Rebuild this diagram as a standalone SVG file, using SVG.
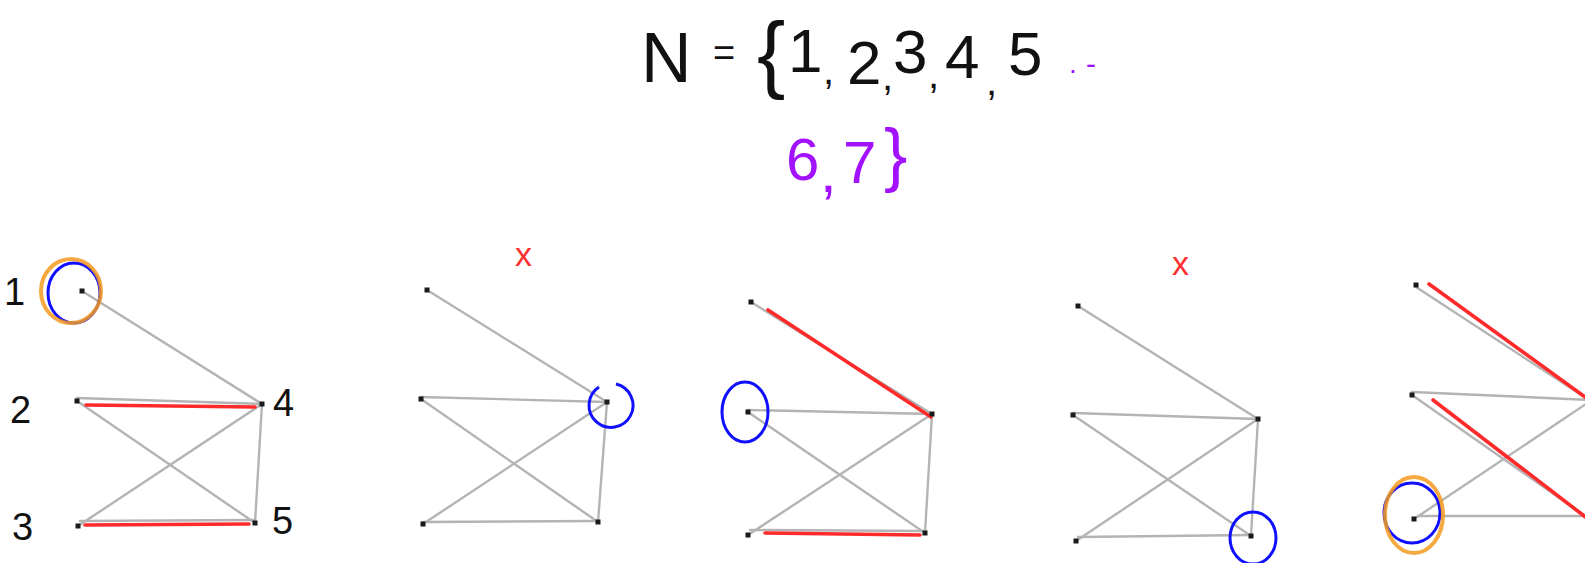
<svg xmlns="http://www.w3.org/2000/svg" width="1585" height="563" viewBox="0 0 1585 563">
<style>
.bg{fill:#ffffff}
.hand{font-family:"Liberation Sans",Arial,sans-serif;fill:#111111}
.purple{fill:#a312ff}
.redmark{font-family:"Liberation Sans",Arial,sans-serif;fill:#ff3030}
.e{stroke:#b4b4b4;stroke-width:2.4;fill:none;stroke-linecap:round}
.r{stroke:#ff2b2b;stroke-width:3.6;fill:none;stroke-linecap:round}
.n{fill:#1a1a1a}
.blue{stroke:#1010ff;stroke-width:3;fill:none}
.orange{stroke:#f39a1f;stroke-width:4;fill:none;opacity:0.85}
</style>
<rect class="bg" x="0" y="0" width="1585" height="563"/>

<g id="title">
<text class="hand" font-size="62"><tspan x="641" y="82" font-size="70">N</tspan><tspan x="713" y="66" font-size="38">=</tspan><tspan x="757" y="82" font-size="85">{</tspan><tspan x="788" y="72">1</tspan><tspan x="823" y="84" font-size="40">,</tspan><tspan x="847" y="84">2</tspan><tspan x="882" y="90" font-size="40">,</tspan><tspan x="893" y="73">3</tspan><tspan x="928" y="88" font-size="40">,</tspan><tspan x="945" y="78">4</tspan><tspan x="986" y="95" font-size="40">,</tspan><tspan x="1008" y="75">5</tspan><tspan class="purple" x="1069" y="73" font-size="28">.</tspan><tspan class="purple" x="1086" y="74" font-size="30">-</tspan></text>
<text class="hand purple" font-size="60"><tspan x="786" y="180">6</tspan><tspan x="820" y="192">,</tspan><tspan x="843" y="183">7</tspan><tspan x="884" y="178" font-size="70">}</tspan></text>
</g>

<g id="labels">
<text class="hand" font-size="38" x="4" y="305">1</text>
<text class="hand" font-size="38" x="10" y="423">2</text>
<text class="hand" font-size="38" x="12" y="540">3</text>
<text class="hand" font-size="38" x="273" y="416">4</text>
<text class="hand" font-size="38" x="272" y="534">5</text>
<text class="redmark" font-size="34" x="515" y="266">x</text>
<text class="redmark" font-size="34" x="1172" y="275">x</text>
</g>

<g id="connectors">
<g id="edges-g1">
<line class="e" x1="82" y1="291" x2="262" y2="404"/>
<line class="e" x1="77" y1="398" x2="262" y2="404"/>
<line class="e" x1="77" y1="401" x2="255" y2="523"/>
<line class="e" x1="78" y1="526" x2="262" y2="404"/>
<line class="e" x1="80" y1="521" x2="255" y2="520"/>
<line class="e" x1="262" y1="404" x2="255" y2="523"/>
<line class="r" x1="86" y1="405" x2="255" y2="407"/>
<line class="r" x1="85" y1="525" x2="249" y2="524"/>
</g>
<g id="edges-g2">
<line class="e" x1="427" y1="290" x2="607" y2="402"/>
<line class="e" x1="421" y1="397" x2="607" y2="402"/>
<line class="e" x1="421" y1="399" x2="598" y2="522"/>
<line class="e" x1="423" y1="524" x2="607" y2="402"/>
<line class="e" x1="423" y1="522" x2="598" y2="521"/>
<line class="e" x1="607" y1="402" x2="598" y2="522"/>
</g>
<g id="edges-g3">
<line class="e" x1="751" y1="302" x2="932" y2="414"/>
<line class="e" x1="748" y1="410" x2="932" y2="414"/>
<line class="e" x1="748" y1="412" x2="925" y2="533"/>
<line class="e" x1="748" y1="535" x2="932" y2="414"/>
<line class="e" x1="750" y1="530" x2="925" y2="531"/>
<line class="e" x1="932" y1="414" x2="925" y2="533"/>
<line class="r" x1="768" y1="310" x2="931" y2="417"/>
<line class="r" x1="765" y1="533" x2="920" y2="535"/>
</g>
<g id="edges-g4">
<line class="e" x1="1078" y1="306" x2="1258" y2="419"/>
<line class="e" x1="1073" y1="413" x2="1258" y2="419"/>
<line class="e" x1="1073" y1="415" x2="1251" y2="536"/>
<line class="e" x1="1076" y1="541" x2="1258" y2="419"/>
<line class="e" x1="1078" y1="537" x2="1251" y2="535"/>
<line class="e" x1="1258" y1="419" x2="1251" y2="536"/>
</g>
<g id="edges-g5">
<line class="e" x1="1416" y1="287" x2="1592" y2="402"/>
<line class="e" x1="1412" y1="392" x2="1592" y2="400"/>
<line class="e" x1="1412" y1="395" x2="1592" y2="521"/>
<line class="e" x1="1414" y1="519" x2="1592" y2="400"/>
<line class="e" x1="1418" y1="516" x2="1592" y2="516"/>
<line class="r" x1="1429" y1="284" x2="1592" y2="402"/>
<line class="r" x1="1433" y1="400" x2="1592" y2="522"/>
</g>
</g>

<g id="g1-n1"><rect class="n" x="79.5" y="288.5" width="5" height="5"/></g>
<g id="g1-n2"><rect class="n" x="74.5" y="398.5" width="5" height="5"/></g>
<g id="g1-n3"><rect class="n" x="75.5" y="523.5" width="5" height="5"/></g>
<g id="g1-n4"><rect class="n" x="259.5" y="401.5" width="5" height="5"/></g>
<g id="g1-n5"><rect class="n" x="252.5" y="520.5" width="5" height="5"/></g>
<g id="g2-n1"><rect class="n" x="424.5" y="287.5" width="5" height="5"/></g>
<g id="g2-n2"><rect class="n" x="418.5" y="396.5" width="5" height="5"/></g>
<g id="g2-n3"><rect class="n" x="420.5" y="521.5" width="5" height="5"/></g>
<g id="g2-n4"><rect class="n" x="604.5" y="399.5" width="5" height="5"/></g>
<g id="g2-n5"><rect class="n" x="595.5" y="519.5" width="5" height="5"/></g>
<g id="g3-n1"><rect class="n" x="748.5" y="299.5" width="5" height="5"/></g>
<g id="g3-n2"><rect class="n" x="745.5" y="409.5" width="5" height="5"/></g>
<g id="g3-n3"><rect class="n" x="745.5" y="532.5" width="5" height="5"/></g>
<g id="g3-n4"><rect class="n" x="929.5" y="411.5" width="5" height="5"/></g>
<g id="g3-n5"><rect class="n" x="922.5" y="530.5" width="5" height="5"/></g>
<g id="g4-n1"><rect class="n" x="1075.5" y="303.5" width="5" height="5"/></g>
<g id="g4-n2"><rect class="n" x="1070.5" y="412.5" width="5" height="5"/></g>
<g id="g4-n3"><rect class="n" x="1073.5" y="538.5" width="5" height="5"/></g>
<g id="g4-n4"><rect class="n" x="1255.5" y="416.5" width="5" height="5"/></g>
<g id="g4-n5"><rect class="n" x="1248.5" y="533.5" width="5" height="5"/></g>
<g id="g5-n1"><rect class="n" x="1413.5" y="282.5" width="5" height="5"/></g>
<g id="g5-n2"><rect class="n" x="1409.5" y="392.5" width="5" height="5"/></g>
<g id="g5-n3"><rect class="n" x="1411.5" y="516.5" width="5" height="5"/></g>

<g id="highlights">
<ellipse class="blue" cx="74" cy="293" rx="26" ry="30"/>
<ellipse class="orange" cx="71" cy="291" rx="30" ry="32"/>
<path class="blue" d="M599,387 A22,22 0 1 0 616,384"/>
<ellipse class="blue" cx="745" cy="412" rx="23" ry="30"/>
<ellipse class="blue" cx="1253" cy="538" rx="23" ry="26"/>
<ellipse class="blue" cx="1412" cy="513" rx="28" ry="30"/>
<ellipse class="orange" cx="1414" cy="515" rx="29" ry="38"/>
</g>
</svg>
